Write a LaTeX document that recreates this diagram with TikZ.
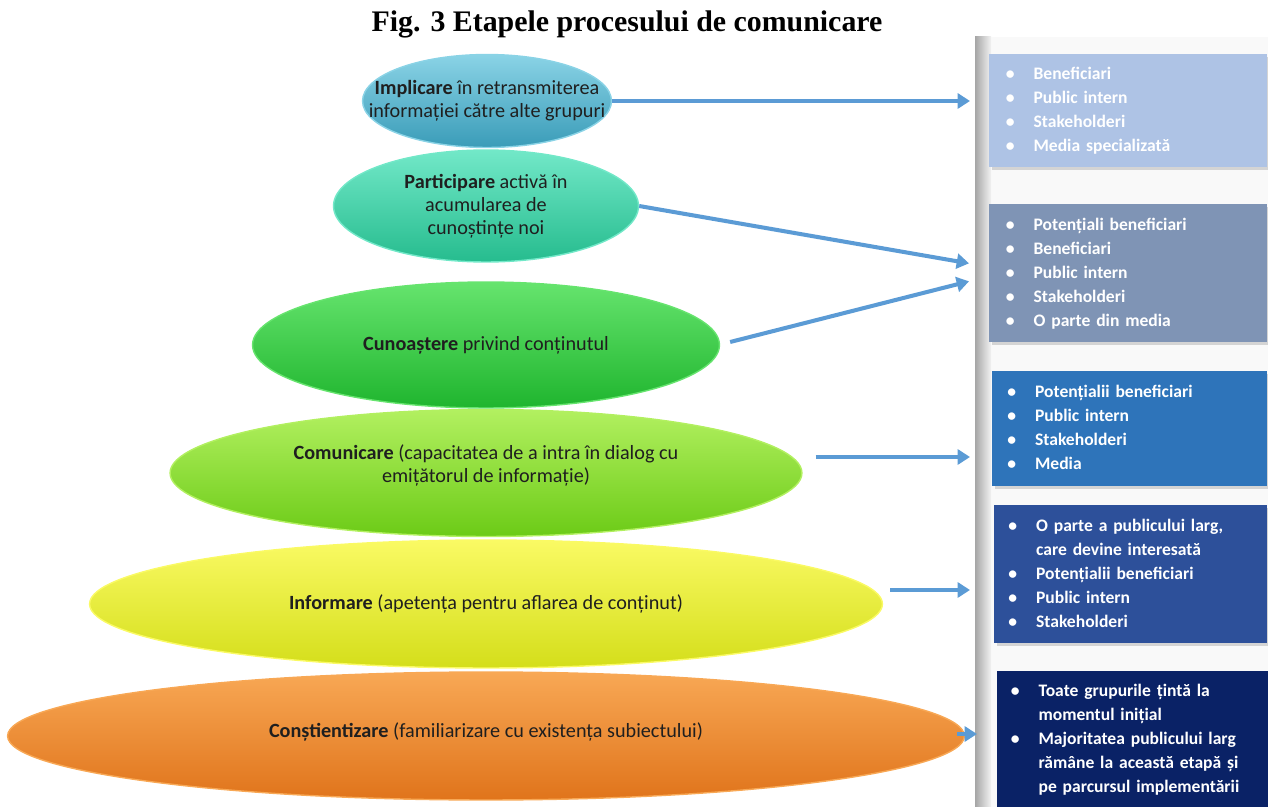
\documentclass[tikz,border=0pt]{standalone}
\usepackage{fontspec}
\setmainfont{Carlito}
\newfontfamily\titlufont{Liberation Serif}
\usetikzlibrary{arrows.meta,shapes,calc,positioning,shadows}

\definecolor{sagblue}{HTML}{5B9BD5}
\definecolor{impA}{HTML}{8AD3E6}\definecolor{impB}{HTML}{4EB3CF}\definecolor{impC}{HTML}{3A9CB8}
\definecolor{parA}{HTML}{72E8C8}\definecolor{parB}{HTML}{3BD6AC}\definecolor{parC}{HTML}{26BC8E}
\definecolor{cunA}{HTML}{66E46E}\definecolor{cunB}{HTML}{2ED03F}\definecolor{cunC}{HTML}{1FB52E}
\definecolor{comA}{HTML}{B2F060}\definecolor{comB}{HTML}{8FE52F}\definecolor{comC}{HTML}{6CCB17}
\definecolor{infA}{HTML}{FAFA64}\definecolor{infB}{HTML}{EEF02C}\definecolor{infC}{HTML}{D4DE1A}
\definecolor{conA}{HTML}{F8A855}\definecolor{conB}{HTML}{F48A2A}\definecolor{conC}{HTML}{E0741B}
\definecolor{grupA}{HTML}{AEC3E5}
\definecolor{grupB}{HTML}{7F94B5}
\definecolor{grupC}{HTML}{2E74BA}
\definecolor{grupD}{HTML}{2D509A}
\definecolor{grupE}{HTML}{0A2266}

\begin{document}
\begin{tikzpicture}[x=0.02cm,y=-0.02cm,
    etapa/.style={ellipse, inner sep=0pt, draw=#1A, line width=0.8pt,
        top color=#1A, middle color=#1B, bottom color=#1C},
    etext/.style={align=center, text=black!88, font=\fontsize{11.5}{13.1}\selectfont},
    grup/.style={rectangle, anchor=north west, inner xsep=0.27cm, inner ysep=0pt,
        text width=4.9cm, align=left, text=white, font=\bfseries\fontsize{10}{13.66}\selectfont,
        drop shadow={opacity=0.3, shadow xshift=0.05cm, shadow yshift=-0.05cm}},
    sageata/.style={draw=sagblue, line width=2.3pt, -{Triangle[length=7pt,width=8.5pt]}}]

\useasboundingbox (0,0) rectangle (1268,807);

%% bara gri din dreapta
\fill[gray!5] (991,37) rectangle (1268,807);
\shade[left color=gray!70, right color=gray!10] (975,37) rectangle (991,807);

%% grupurile tinta
\node[grup, fill=grupA, minimum width=5.56cm, minimum height=2.26cm] (b1) at (989,54) {%
\begin{tabular}{@{}l@{\hspace{0.38cm}}l@{}}
\textbullet & Beneficiari\\ \textbullet & Public intern\\ \textbullet & Stakeholderi\\ \textbullet & Media specializată
\end{tabular}};
\node[grup, fill=grupB, minimum width=5.56cm, minimum height=2.76cm] (b2) at (989,204) {%
\begin{tabular}{@{}l@{\hspace{0.38cm}}l@{}}
\textbullet & Potențiali beneficiari\\ \textbullet & Beneficiari\\ \textbullet & Public intern\\ \textbullet & Stakeholderi\\ \textbullet & O parte din media
\end{tabular}};
\node[grup, fill=grupC, minimum width=5.5cm, minimum height=2.3cm] (b3) at (992,371) {%
\begin{tabular}{@{}l@{\hspace{0.38cm}}l@{}}
\textbullet & Potențialii beneficiari\\ \textbullet & Public intern\\ \textbullet & Stakeholderi\\ \textbullet & Media
\end{tabular}};
\node[grup, fill=grupD, minimum width=5.46cm, minimum height=2.76cm] (b4) at (994,505) {%
\begin{tabular}{@{}l@{\hspace{0.38cm}}l@{}}
\textbullet & O parte a publicului larg,\\ & care devine interesată\\ \textbullet & Potențialii beneficiari\\ \textbullet & Public intern\\ \textbullet & Stakeholderi
\end{tabular}};
\node[grup, fill=grupE, minimum width=5.42cm, minimum height=2.72cm] (b5) at (997,671) {%
\begin{tabular}{@{}l@{\hspace{0.38cm}}l@{}}
\textbullet & Toate grupurile țintă la\\ & momentul inițial\\ \textbullet & Majoritatea publicului larg\\ & rămâne la această etapă și\\ & pe parcursul implementării
\end{tabular}};

%% etapele
\node[etapa=con, minimum width=19.14cm, minimum height=2.56cm] (con) at (486,736) {};
\node[etapa=inf, minimum width=15.86cm, minimum height=2.56cm] (inf) at (486,604) {};
\node[etapa=com, minimum width=12.64cm, minimum height=2.54cm] (com) at (486,473) {};
\node[etapa=cun, minimum width=9.34cm, minimum height=2.52cm] (cun) at (486,345) {};
\node[etapa=par, minimum width=6.1cm, minimum height=2.24cm] (par) at (486,206) {};
\node[etapa=imp, minimum width=4.98cm, minimum height=1.86cm] (imp) at (487,101) {};

\node[etext] (imp-t) at (imp) {\textbf{Implicare} în retransmiterea\\informației către alte grupuri};
\node[etext] (par-t) at (par) {\textbf{Participare} activă în\\acumularea de\\cunoștințe noi};
\node[etext] (cun-t) at (cun) {\textbf{Cunoaștere} privind conținutul};
\node[etext] (com-t) at ($(com)+(0,-8)$) {\textbf{Comunicare} (capacitatea de a intra în dialog cu\\emițătorul de informație)};
\node[etext] (inf-t) at (inf) {\textbf{Informare} (apetența pentru aflarea de conținut)};
\node[etext] (con-t) at ($(con)+(0,-4)$) {\textbf{Conștientizare} (familiarizare cu existența subiectului)};

%% sagetile
\draw[sageata] (imp.east) -- ($(imp.east -| b1.west)+(-19,0)$);
\draw[sageata] (par.east) -- ($(b2.west)+(-20,-10)$);
\draw[sageata] ($(cun.east)+(10,-3)$) -- ($(b2.west)+(-20,8)$);
\draw[sageata] ($(com.east)+(13,-16)$) -- ($(com.east -| b3.west)+(-22,-16)$);
\draw[sageata] ($(inf.east)+(7,-14)$) -- ($(inf.east -| b4.west)+(-24,-14)$);
\draw[sageata] ($(con.east)+(-8,-2)$) -- ($(con.east -| b5.west)+(-20,-2)$);

\node[font=\titlufont\bfseries\fontsize{17}{20}\selectfont] (titlu) at (627,24) {Fig. 3 Etapele procesului de comunicare};
\end{tikzpicture}
\end{document}
